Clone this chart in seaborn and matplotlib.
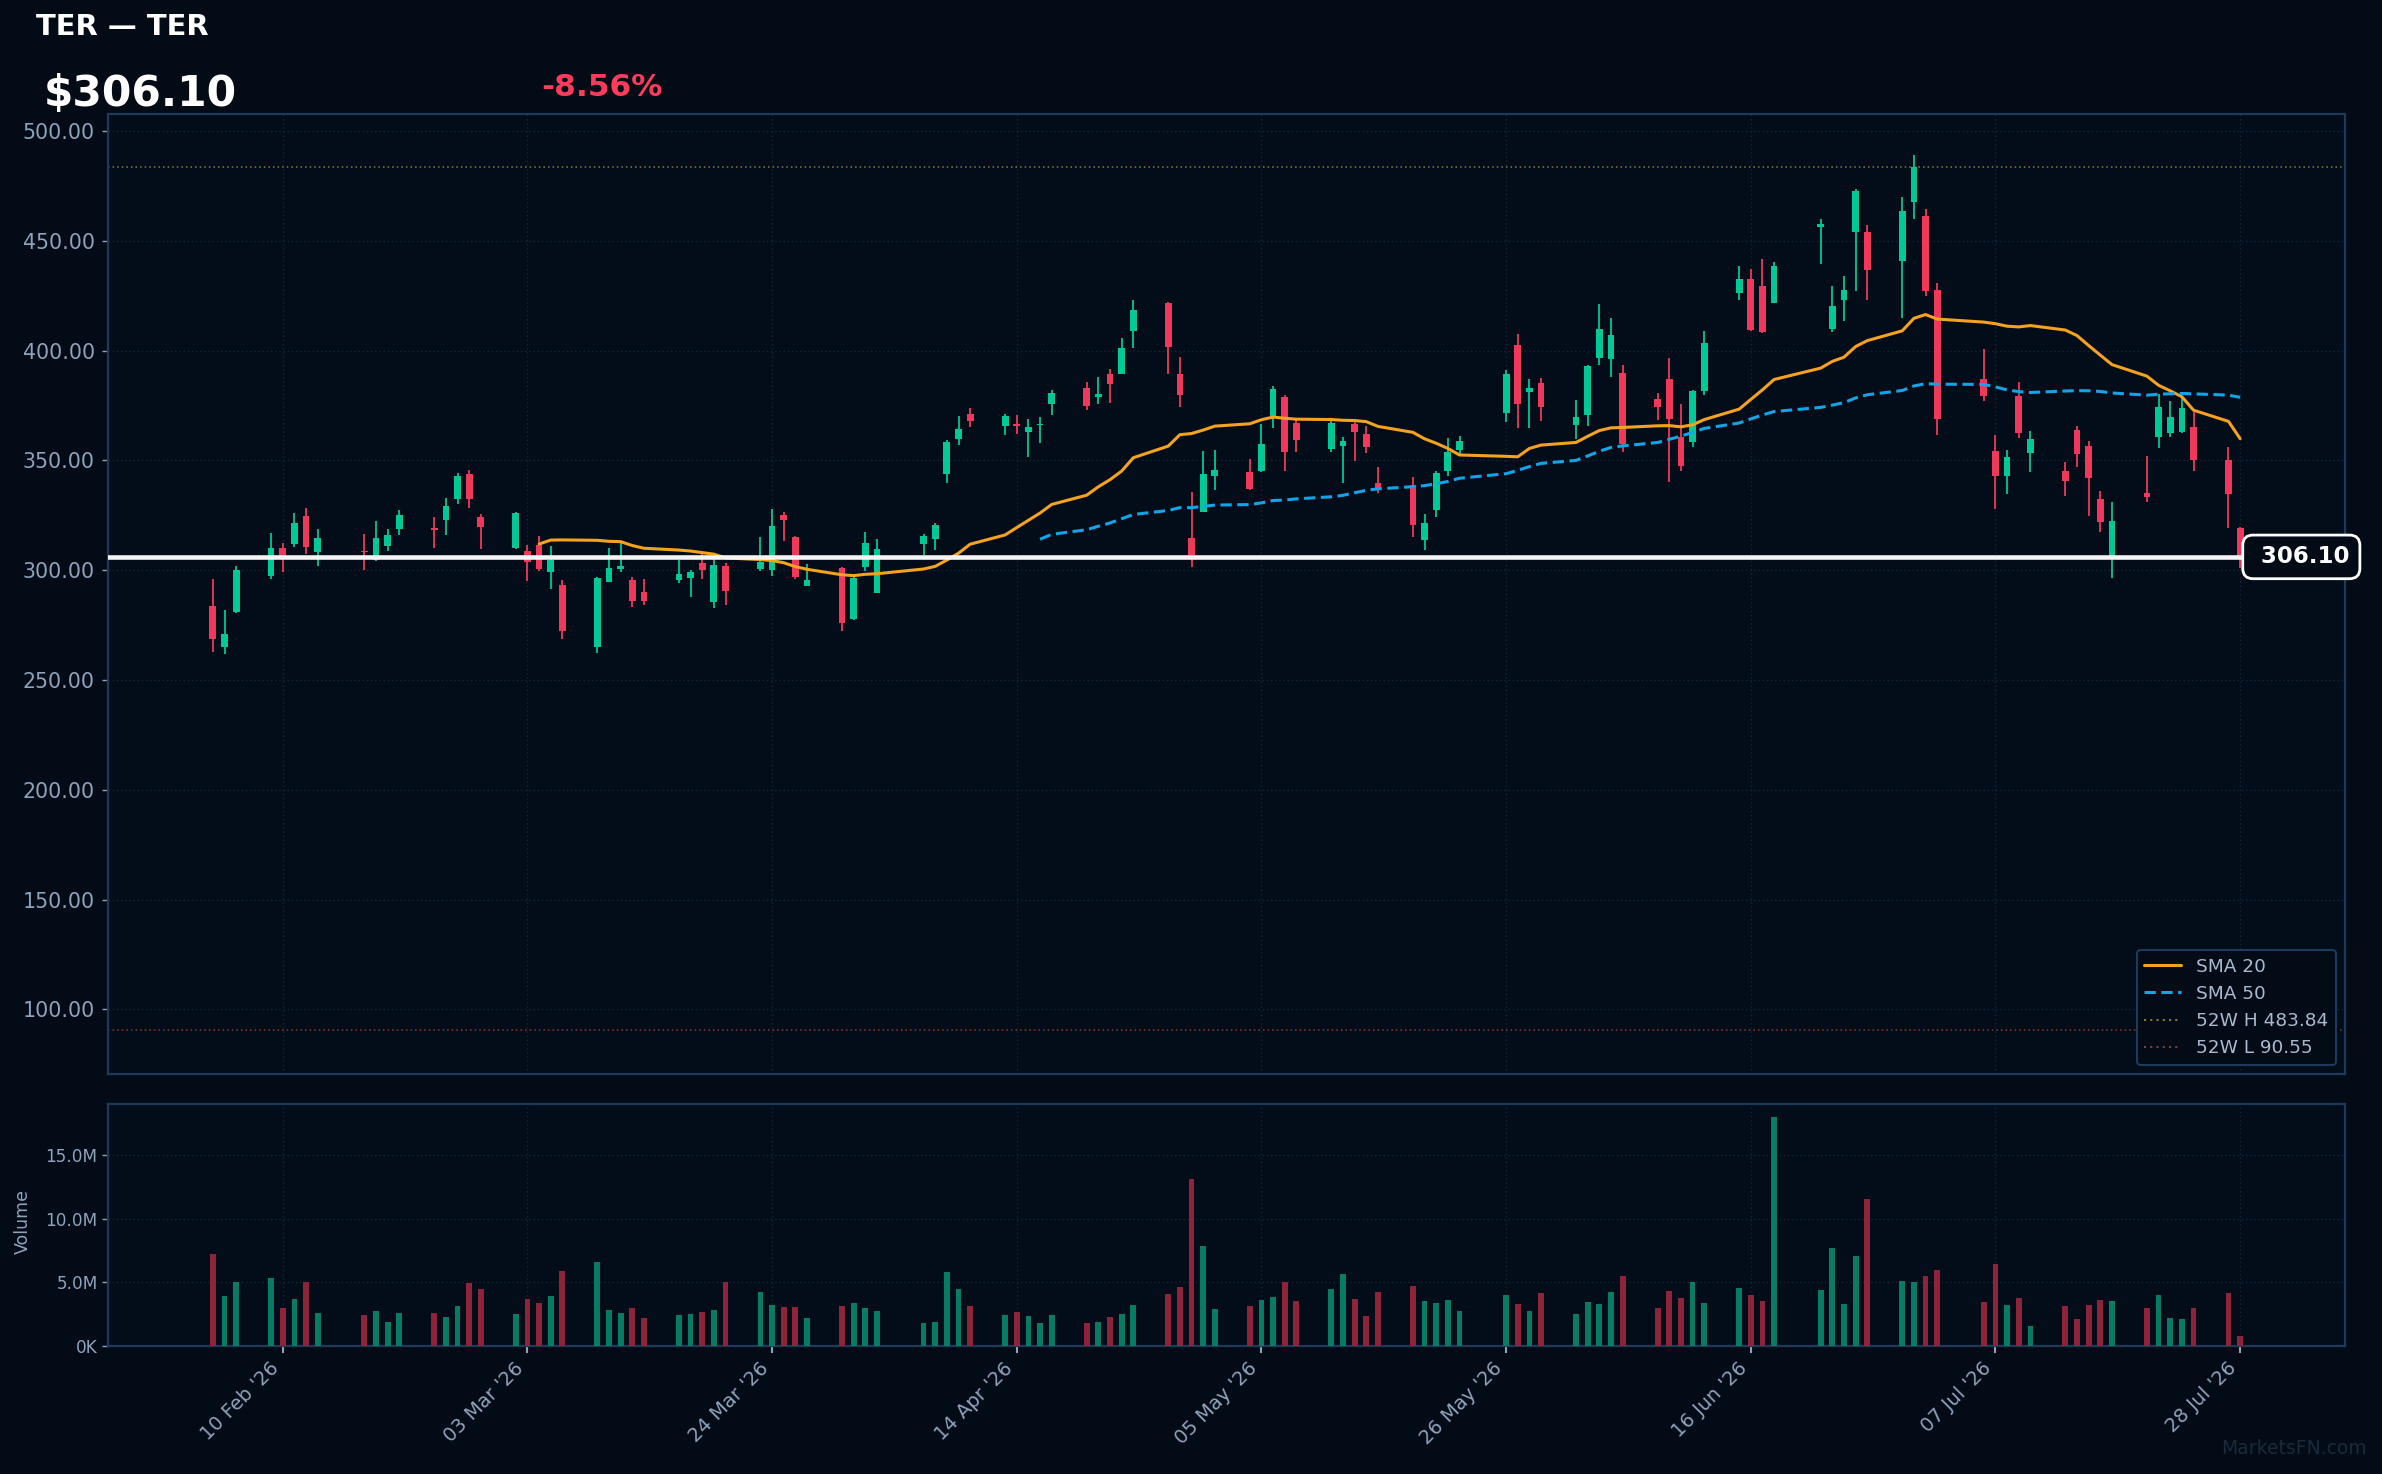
import numpy as np
import pandas as pd
import matplotlib
matplotlib.use("Agg")
import matplotlib.pyplot as plt
import matplotlib.dates as mdates
from matplotlib.ticker import FuncFormatter, FixedLocator
from matplotlib.lines import Line2D
import seaborn as sns

# ---------------- data ----------------
ticker = "TER"
trade_days = {
    "2026-02": [4, 5, 6, 9, 10, 11, 12, 13, 17, 18, 19, 20, 23, 24, 25, 26, 27],
    "2026-03": [2, 3, 4, 5, 6, 9, 10, 11, 12, 13, 16, 17, 18, 19, 20, 23, 24, 25, 26, 27, 30, 31],
    "2026-04": [1, 2, 6, 7, 8, 9, 10, 13, 14, 15, 16, 17, 20, 21, 22, 23, 24, 27, 28, 29, 30],
    "2026-05": [1, 4, 5, 6, 7, 8, 11, 12, 13, 14, 15, 18, 19, 20, 21, 22, 26, 27, 28, 29],
    "2026-06": [1, 2, 3, 4, 5, 8, 9, 10, 11, 12, 15, 16, 17, 18, 22, 23, 24, 25, 26, 29, 30],
    "2026-07": [1, 2, 6, 7, 8, 9, 10, 13, 14, 15, 16, 17, 20, 21, 22, 23, 24, 27, 28],
}

open_ = [283.7, 265.2, 281.0, 297.4, 310.2, 312.0, 324.7, 308.3, 308.6, 304.7, 311.1, 318.8, 318.9, 322.9, 332.5, 343.9, 324.3,
         310.2, 308.8, 311.5, 299.2, 293.3, 265.1, 294.7, 300.6, 295.6, 290.1, 295.6, 296.5, 303.3, 285.6, 302.0, 300.6, 300.1, 325.2, 315.2, 292.9, 301.0, 277.8,
         301.5, 289.7, 312.0, 314.3, 343.9, 359.8, 371.2, 365.7, 366.6, 363.0, 366.0, 375.7, 383.0, 378.9, 389.4, 389.4, 409.0, 421.7, 389.4, 314.7, 326.5,
         342.9, 344.8, 345.2, 370.3, 378.9, 367.1, 355.2, 356.6, 366.6, 362.1, 339.8, 338.8, 313.8, 327.5, 345.2, 354.8, 371.6, 402.6, 381.2, 385.3,
         366.2, 370.7, 396.7, 396.2, 389.8, 378.0, 387.1, 360.7, 358.4, 381.6, 426.3, 432.7, 429.5, 421.7, 456.5, 409.9, 423.1, 454.0, 454.0, 440.8, 467.7,
         461.3, 427.6, 387.1, 354.3, 342.9, 379.4, 353.4, 345.2, 363.9, 356.6, 332.5, 306.5, 335.2, 360.7, 362.5, 363.0, 365.3, 350.2, 319.3]
high = [296.0, 281.9, 302.0, 317.0, 312.4, 326.1, 328.4, 318.8, 316.5, 322.4, 318.8, 327.5, 324.3, 332.9, 344.3, 345.7, 325.6,
        326.5, 311.5, 315.6, 311.1, 295.6, 296.9, 310.2, 312.9, 296.9, 296.0, 304.7, 300.1, 307.9, 305.6, 303.3, 315.2, 327.9, 326.5, 315.6, 302.9, 301.5, 297.4,
        317.4, 314.3, 316.5, 321.5, 359.3, 370.3, 373.9, 371.2, 370.7, 368.9, 369.8, 382.1, 385.7, 388.0, 391.7, 405.8, 423.1, 422.2, 397.1, 335.7, 354.3,
        354.8, 350.7, 366.6, 383.9, 379.8, 368.4, 368.0, 360.7, 367.5, 365.7, 347.0, 342.5, 325.6, 345.2, 360.2, 361.2, 391.2, 407.6, 387.1, 387.6,
        377.6, 393.5, 421.3, 414.9, 393.5, 380.7, 396.7, 375.7, 382.1, 409.0, 438.6, 437.2, 441.8, 440.4, 460.0, 429.5, 434.0, 473.6, 457.2, 470.0, 489.1,
        464.5, 430.8, 400.8, 361.6, 354.8, 385.7, 363.4, 349.3, 365.7, 358.9, 336.1, 331.1, 352.0, 380.3, 377.1, 379.4, 372.1, 356.1, 319.7]
low = [262.8, 261.9, 280.7, 296.2, 299.4, 310.6, 307.4, 302.0, 300.1, 304.2, 308.8, 316.1, 310.2, 316.1, 330.2, 328.4, 309.7,
       309.7, 295.1, 299.9, 291.5, 268.7, 262.3, 294.7, 299.2, 283.3, 284.2, 294.2, 287.8, 296.0, 282.8, 284.2, 299.7, 297.4, 313.3, 296.0, 292.9, 272.4, 277.4,
       299.7, 289.7, 307.0, 309.2, 339.8, 357.1, 365.3, 361.6, 362.1, 351.6, 358.0, 370.7, 373.0, 375.7, 376.2, 389.4, 401.2, 389.4, 374.4, 301.5, 326.5,
       336.6, 336.6, 344.8, 364.8, 345.2, 353.9, 353.9, 339.8, 349.8, 353.4, 335.2, 315.2, 309.2, 324.3, 342.9, 353.0, 367.5, 364.8, 364.8, 368.0,
       359.8, 365.7, 393.5, 388.0, 353.9, 368.4, 340.2, 345.2, 356.1, 379.8, 423.1, 409.0, 408.0, 421.7, 439.5, 408.5, 413.5, 427.2, 423.1, 414.9, 460.0,
       424.9, 361.6, 377.1, 327.9, 334.7, 360.2, 344.8, 333.8, 347.0, 324.7, 317.4, 296.5, 331.1, 355.7, 360.7, 362.5, 345.2, 319.3, 300.9]
close = [268.7, 271.0, 300.1, 310.2, 305.0, 321.5, 310.6, 314.7, 308.1, 314.7, 316.1, 325.2, 318.5, 329.3, 342.9, 332.5, 319.7,
         326.1, 303.8, 300.5, 304.7, 272.4, 296.5, 301.0, 302.0, 286.0, 286.0, 298.3, 299.2, 300.1, 302.4, 290.6, 303.8, 320.2, 322.9, 296.9, 295.6, 276.0, 296.5,
         312.4, 309.7, 315.6, 320.6, 358.5, 364.3, 368.0, 370.3, 365.7, 365.3, 366.3, 380.7, 374.8, 380.3, 384.8, 401.2, 418.5, 401.7, 379.8, 307.0, 343.9,
         345.7, 337.0, 357.5, 382.6, 353.9, 359.3, 367.1, 358.9, 363.0, 356.1, 337.5, 320.6, 321.5, 344.3, 353.9, 358.9, 389.4, 375.7, 383.0, 374.4,
         369.8, 393.0, 409.9, 407.1, 357.5, 374.4, 368.9, 347.5, 381.6, 403.5, 432.7, 409.4, 408.5, 438.6, 457.6, 420.4, 427.6, 472.7, 436.7, 463.6, 483.84,
         427.2, 368.9, 379.4, 342.9, 351.6, 362.5, 359.8, 340.7, 353.0, 342.0, 322.0, 322.4, 333.4, 374.4, 369.8, 373.9, 350.2, 334.76, 306.10]
volume_m = [7.22, 3.92, 5.0, 5.34, 2.98, 3.69, 5.0, 2.59, 2.43, 2.75, 1.88, 2.59, 2.59, 2.28, 3.14, 4.95, 4.47,
            2.51, 3.69, 3.38, 3.92, 5.89, 6.59, 2.83, 2.59, 2.98, 2.20, 2.43, 2.51, 2.67, 2.83, 5.0, 4.24, 3.22, 3.06, 3.06, 2.20, 3.14, 3.38,
            2.98, 2.75, 1.81, 1.88, 5.81, 4.47, 3.14, 2.43, 2.67, 2.35, 1.81, 2.43, 1.81, 1.88, 2.28, 2.51, 3.22, 4.08, 4.63, 13.11, 7.85,
            2.90, 3.14, 3.61, 3.85, 5.0, 3.53, 4.47, 5.65, 3.69, 2.35, 4.24, 4.71, 3.53, 3.38, 3.61, 2.75, 4.0, 3.30, 2.75, 4.16,
            2.51, 3.45, 3.30, 4.24, 5.49, 2.98, 4.32, 3.77, 5.0, 3.38, 4.55, 4.0, 3.53, 17.97, 4.40, 7.69, 3.30, 7.06, 11.54, 5.10, 5.02,
            5.49, 5.97, 3.45, 6.44, 3.22, 3.77, 1.57, 3.14, 2.12, 3.22, 3.61, 3.53, 2.98, 4.0, 2.20, 2.12, 2.98, 4.16, 0.78]
high_52w = 483.84
low_52w = 90.55
change_pct = -8.56
tick_dates = ["2026-02-10", "2026-03-03", "2026-03-24", "2026-04-14", "2026-05-05",
              "2026-05-26", "2026-06-16", "2026-07-07", "2026-07-28"]
price_ticks = [100, 150, 200, 250, 300, 350, 400, 450, 500]
volume_ticks = [0, 5, 10, 15]

# ---------------- frame ----------------
dates = pd.to_datetime([f"{m}-{d:02d}" for m, ds in trade_days.items() for d in ds])
df = pd.DataFrame({"date": dates, "open": open_, "high": high, "low": low,
                   "close": close, "volume": volume_m})
df["sma20"] = df["close"].rolling(20).mean()
df["sma50"] = df["close"].rolling(50).mean()
df["up"] = df["close"] >= df["open"]
xnum = mdates.date2num(df["date"])
last = df["close"].iloc[-1]

# ---------------- style ----------------
BG = "#020b16"
AX_BG = "#030d19"
SPINE = "#1e3a5a"
GRID = "#16263a"
TXT = "#8fa3bd"
UP = "#00c896"
DOWN = "#f0385a"
VUP = "#087c62"
VDOWN = "#8e2339"

sns.set_theme(style="dark")
plt.rcParams["font.family"] = ["DejaVu Sans"]
plt.rcParams["axes.facecolor"] = AX_BG
plt.rcParams["figure.facecolor"] = BG

fig = plt.figure(figsize=(23.82, 14.74), dpi=100)
fig.patch.set_facecolor(BG)
W, H = 2382.0, 1474.0
ax = fig.add_axes([108 / W, 1 - 1074 / H, (2345 - 108) / W, (1074 - 114) / H])
axv = fig.add_axes([108 / W, 1 - 1346 / H, (2345 - 108) / W, (1346 - 1104) / H], sharex=ax)

for a in (ax, axv):
    a.set_facecolor(AX_BG)
    for s in a.spines.values():
        s.set_color(SPINE)
        s.set_linewidth(1.6)
    a.grid(True, color=GRID, linestyle=(0, (1, 2)), linewidth=1.0)
    a.set_axisbelow(True)

# candles
colors = np.where(df["up"], UP, DOWN)
ax.vlines(xnum, df["low"], df["high"], colors=colors, linewidth=1.3, zorder=3)
body_bottom = np.minimum(df["open"], df["close"])
body_h = np.maximum(np.abs(df["close"] - df["open"]), 0.7)
ax.bar(xnum, body_h, bottom=body_bottom, width=0.58, color=colors, linewidth=0, zorder=4)

# moving averages via seaborn
sns.lineplot(x=xnum, y=df["sma20"].values, ax=ax, color="#f5a31f", linewidth=2.2, zorder=5)
sns.lineplot(x=xnum, y=df["sma50"].values, ax=ax, color="#12a4e8", linewidth=2.2,
             linestyle=(0, (3.7, 1.8)), zorder=5)

# 52w lines
ax.axhline(high_52w, color="#8c7d1e", linestyle=(0, (1, 2)), linewidth=1.1, zorder=2)
ax.axhline(low_52w, color="#8a3b2b", linestyle=(0, (1, 2)), linewidth=1.1, zorder=2)

# last price line
ax.axhline(last, color="#f4f4f4", linewidth=3.3, zorder=6)
ax.text(0.9589, last, f" {last:.2f}", transform=ax.get_yaxis_transform(), ha="left", va="center",
        fontsize=16.5, fontweight="bold", color="white", zorder=10, clip_on=False,
        bbox=dict(boxstyle="round,pad=0.45,rounding_size=0.45", facecolor=BG, edgecolor="white", linewidth=2))

ax.set_xlim(mdates.date2num(pd.Timestamp("2026-01-26")), mdates.date2num(pd.Timestamp("2026-08-06")))
ax.set_ylim(70.6, 507.8)
ax.yaxis.set_major_locator(FixedLocator(price_ticks))
ax.yaxis.set_major_formatter(FuncFormatter(lambda v, p: f"{v:.2f}"))
ax.tick_params(axis="y", colors=TXT, labelsize=14.8, length=4, width=1, left=True, pad=5.5)
ax.tick_params(axis="x", labelbottom=False, length=0)
ax.set_xlabel("")
ax.set_ylabel("")

# legend
handles = [
    Line2D([], [], color="#f5a31f", linewidth=2.2),
    Line2D([], [], color="#12a4e8", linewidth=2.2, linestyle=(0, (3.7, 1.8))),
    Line2D([], [], color="#8c7d1e", linewidth=1.5, linestyle=(0, (1, 2))),
    Line2D([], [], color="#8a3b2b", linewidth=1.5, linestyle=(0, (1, 2))),
]
labels = ["SMA 20", "SMA 50", f"52W H {high_52w:.2f}", f"52W L {low_52w:.2f}"]
leg = ax.legend(handles, labels, loc="lower right", fontsize=13.3, frameon=True,
                facecolor=BG, edgecolor=SPINE, framealpha=1.0, labelcolor="#a9bace",
                borderaxespad=0.5, handlelength=2.0)
leg.get_frame().set_linewidth(1.5)

# volume via bars
vcolors = np.where(df["up"], VUP, VDOWN)
axv.bar(xnum, df["volume"], width=0.5, color=vcolors, linewidth=0, zorder=3)
axv.set_ylim(0, 19.0)
axv.yaxis.set_major_locator(FixedLocator(volume_ticks))
axv.yaxis.set_major_formatter(FuncFormatter(lambda v, p: "0K" if v == 0 else f"{v:.1f}M"))
axv.tick_params(axis="y", colors=TXT, labelsize=12.2, length=4, width=1, left=True)
axv.xaxis.set_major_locator(FixedLocator(mdates.date2num(pd.to_datetime(tick_dates))))
axv.xaxis.set_major_formatter(mdates.DateFormatter("%d %b '%y"))
axv.tick_params(axis="x", colors=TXT, labelsize=14.0, length=5, width=1.5, bottom=True, pad=4)
for lab in axv.get_xticklabels():
    lab.set_rotation(45)
    lab.set_ha("right")
    lab.set_va("top")
    lab.set_rotation_mode("default")
axv.set_xlabel("")
axv.set_ylabel("")
fig.text(23 / W, 1 - 1222 / H, "Volume", rotation=90, ha="center", va="center", fontsize=12.5, color=TXT)

# header
fig.text(36 / W, 1 - 27 / H, f"{ticker} — {ticker}", ha="left", va="center", fontsize=20.9,
         fontweight="bold", color="white")
fig.text(44 / W, 1 - 94 / H, f"${last:.2f}", ha="left", va="center", fontsize=30.5,
         fontweight="bold", color="white")
fig.text(541 / W, 1 - 88 / H, f"{change_pct:.2f}%", ha="left", va="center", fontsize=22.5,
         fontweight="bold", color="#ff3b5c")

# watermark
fig.text(2367 / W, 1 - 1448 / H, "MarketsFN.com", ha="right", va="center", fontsize=13.5, color="#1b2a3b")

fig.savefig("out.png", dpi=100, facecolor=BG)
